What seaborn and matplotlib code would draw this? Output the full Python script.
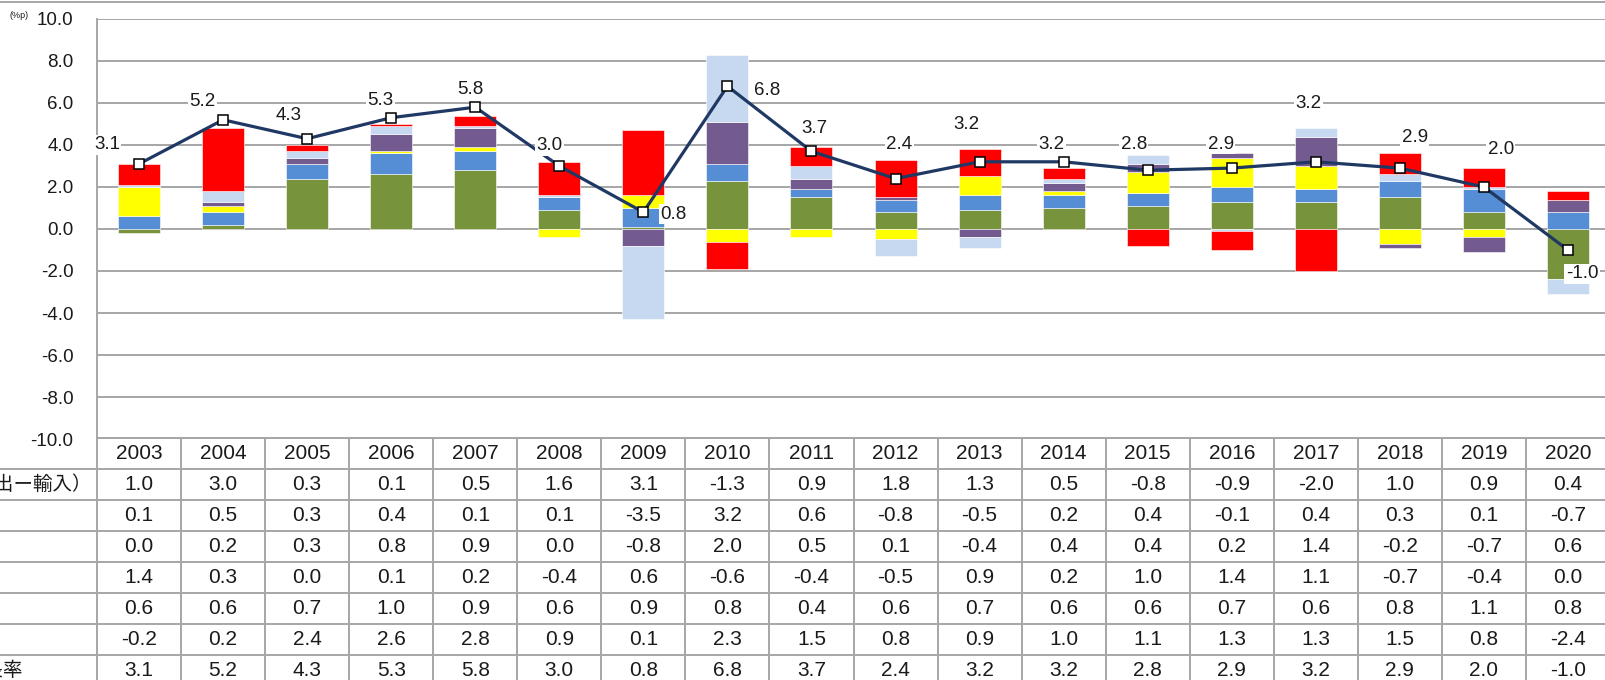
import matplotlib
matplotlib.use('Agg')
import matplotlib.pyplot as plt
import seaborn as sns
import numpy as np
from matplotlib.lines import Line2D

# Data (contributions to growth, %p)
years = [2003, 2004, 2005, 2006, 2007, 2008, 2009, 2010, 2011,
         2012, 2013, 2014, 2015, 2016, 2017, 2018, 2019, 2020]
gaiju = [1.0, 3.0, 0.3, 0.1, 0.5, 1.6, 3.1, -1.3, 0.9, 1.8, 1.3, 0.5, -0.8, -0.9, -2.0, 1.0, 0.9, 0.4]
zaiko = [0.1, 0.5, 0.3, 0.4, 0.1, 0.1, -3.5, 3.2, 0.6, -0.8, -0.5, 0.2, 0.4, -0.1, 0.4, 0.3, 0.1, -0.7]
setsubi = [0.0, 0.2, 0.3, 0.8, 0.9, 0.0, -0.8, 2.0, 0.5, 0.1, -0.4, 0.4, 0.4, 0.2, 1.4, -0.2, -0.7, 0.6]
kensetsu = [1.4, 0.3, 0.0, 0.1, 0.2, -0.4, 0.6, -0.6, -0.4, -0.5, 0.9, 0.2, 1.0, 1.4, 1.1, -0.7, -0.4, 0.0]
seifu = [0.6, 0.6, 0.7, 1.0, 0.9, 0.6, 0.9, 0.8, 0.4, 0.6, 0.7, 0.6, 0.6, 0.7, 0.6, 0.8, 1.1, 0.8]
minkan = [-0.2, 0.2, 2.4, 2.6, 2.8, 0.9, 0.1, 2.3, 1.5, 0.8, 0.9, 1.0, 1.1, 1.3, 1.3, 1.5, 0.8, -2.4]
growth = [3.1, 5.2, 4.3, 5.3, 5.8, 3.0, 0.8, 6.8, 3.7, 2.4, 3.2, 3.2, 2.8, 2.9, 3.2, 2.9, 2.0, -1.0]

row_labels = ['外需（輸出ー輸入）', '在庫増減', '設備投資', '建設投資', '政府消費', '民間消費', '経済成長率']
# only the long labels reach into the visible (cropped) area; start offset in px left of the label column
label_start = [-84, None, None, None, None, None, -74]

# stacking order bottom -> top, with colours
stack = [(minkan, '#77933C'), (seifu, '#558ED5'), (kensetsu, '#FFFF00'),
         (setsubi, '#735A8F'), (zaiko, '#C6D9F0'), (gaiju, '#FF0000')]
table_rows = [gaiju, zaiko, setsubi, kensetsu, seifu, minkan, growth]

# label offsets in pixels (dx, dy)
lab_off = [(-32, 19), (-21, 18), (-19, 23), (-11, 17), (-5, 18), (-10, 20),
           (30, -2), (40, -4), (3, 23), (4, 34), (-13, 37), (-12, 17),
           (-14, 26), (-11, 24), (-7, 58), (15, 31), (17, 38), (14, -24)]

sns.set_style('white')
plt.rcParams['font.family'] = ['Liberation Sans', 'Noto Sans CJK JP']

W, H = 1606, 680
GRID = '#A6A6A6'
TXT = '#1A1A1A'
fig = plt.figure(figsize=(W / 100, H / 100), dpi=100)
fig.patch.set_facecolor('white')

ax = fig.add_axes([97 / W, (H - 439) / H, 1513 / W, 420 / H])
x = np.arange(len(years))

pos_bottom = np.zeros(len(years))
neg_bottom = np.zeros(len(years))
for vals, col in stack:
    v = np.array(vals)
    b = np.where(v >= 0, pos_bottom, neg_bottom)
    ax.bar(x, v, width=0.5, bottom=b, color=col, edgecolor='white', linewidth=0.4, zorder=2)
    pos_bottom = pos_bottom + np.where(v > 0, v, 0)
    neg_bottom = neg_bottom + np.where(v < 0, v, 0)

sns.lineplot(x=x, y=growth, ax=ax, color='#1F3864', lw=2.3, marker='s', markersize=7,
             markerfacecolor='white', markeredgecolor='black', markeredgewidth=1.1,
             zorder=5, legend=False)

for i, v in enumerate(growth):
    ax.annotate(f'{v:.1f}', (i, v), xytext=lab_off[i], textcoords='offset pixels',
                ha='center', va='center', fontsize=13.5, color=TXT,
                bbox=dict(fc='white', ec='none', pad=1.0), zorder=6)

ax.set_xlim(-0.5, len(years) - 0.5)
ax.set_ylim(-10, 10)
ax.set_yticks(np.arange(-10, 10.1, 2))
ax.set_yticklabels([f'{t:.1f}' for t in np.arange(-10, 10.1, 2)], fontsize=13.5, color=TXT)
ax.set_xticks([])
ax.tick_params(axis='y', length=0, pad=17)
ax.yaxis.grid(True, color=GRID, lw=1.4, zorder=0)
ax.set_axisbelow(True)
for s in ['top', 'right', 'bottom']:
    ax.spines[s].set_visible(False)
ax.spines['left'].set_color(GRID)
ax.spines['left'].set_linewidth(1.4)

fig.text(10 / W, 1 - 16 / H, '(%p)', fontsize=6.5, color=TXT, va='center')

# data table under the chart
tab = fig.add_axes([97 / W, (H - 686) / H, 1513 / W, 248 / H])
tab.set_xlim(-0.5, len(years) - 0.5)
tab.set_ylim(8, 0)
tab.axis('off')
px_unit = 1513 / len(years)
left_edge = -0.5 - 97 / px_unit
tab.plot([-0.5, len(years) - 0.5], [0, 0], color=GRID, lw=1.4, clip_on=False)
for r in range(1, 8):
    tab.plot([left_edge, len(years) - 0.5], [r, r], color=GRID, lw=1.4, clip_on=False)
for k in range(len(years) + 1):
    tab.plot([k - 0.5, k - 0.5], [0, 8], color=GRID, lw=1.4, clip_on=False)
for i, yr in enumerate(years):
    tab.text(i, 0.5, str(yr), ha='center', va='center', fontsize=15, color=TXT)
for r, row in enumerate(table_rows):
    for i, v in enumerate(row):
        tab.text(i, r + 1.5, f'{v:.1f}', ha='center', va='center', fontsize=15, color=TXT)
    if label_start[r] is not None:
        tab.text(left_edge + label_start[r] / px_unit, r + 1.5, row_labels[r], ha='left',
                 va='center', fontsize=14, color=TXT, clip_on=False)

fig.add_artist(Line2D([0, 1], [1 - 1.5 / H] * 2, transform=fig.transFigure, color=GRID, lw=1.4))

fig.savefig('out.png', dpi=100)
